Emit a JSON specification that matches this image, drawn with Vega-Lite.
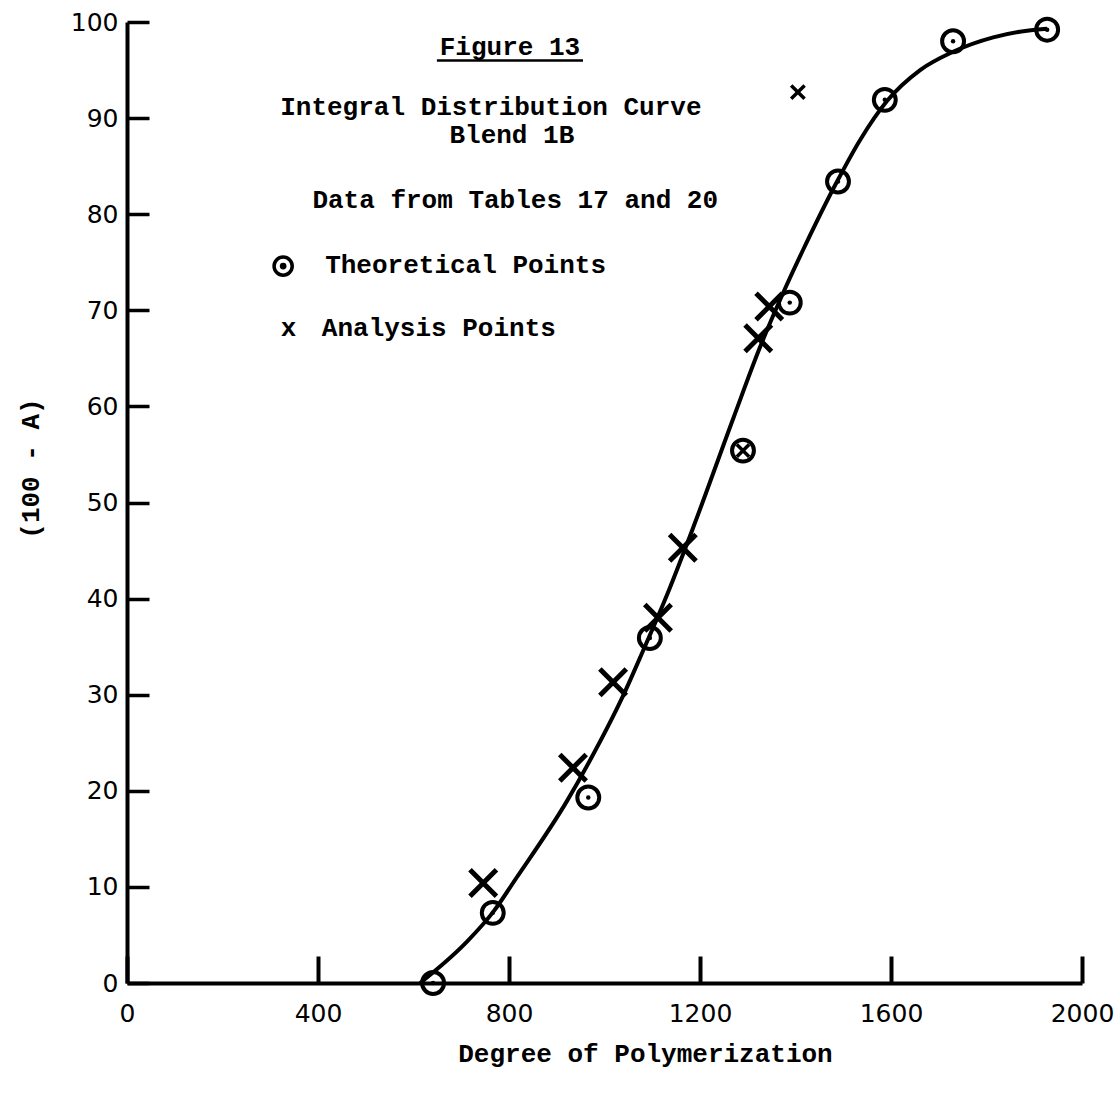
{
  "$schema": "https://vega.github.io/schema/vega-lite/v6.json",
  "width": 955,
  "height": 961,
  "autosize": {"type": "none"},
  "padding": {"left": 127, "top": 22, "right": 33, "bottom": 114},
  "background": "white",
  "config": {"view": {"stroke": null}},
  "datasets": {
    "curve": [
      {"dp": 614, "pct": 0}, {"dp": 712, "pct": 4.3}, {"dp": 767, "pct": 7.4}, {"dp": 815, "pct": 10.9},
      {"dp": 921, "pct": 18.9}, {"dp": 970, "pct": 23.2}, {"dp": 1039, "pct": 29.9}, {"dp": 1081, "pct": 34.6},
      {"dp": 1131, "pct": 40.4}, {"dp": 1185, "pct": 47.3}, {"dp": 1270, "pct": 58.8}, {"dp": 1326, "pct": 66.2},
      {"dp": 1374, "pct": 71.8}, {"dp": 1416, "pct": 76.3}, {"dp": 1487, "pct": 83.4}, {"dp": 1535, "pct": 87.7},
      {"dp": 1592, "pct": 91.8}, {"dp": 1661, "pct": 95}, {"dp": 1730, "pct": 96.9}, {"dp": 1814, "pct": 98.4},
      {"dp": 1885, "pct": 99.1}, {"dp": 1927, "pct": 99.3}
    ],
    "points": [
      {"dp": 641, "pct": 0, "series": "Theoretical"},
      {"dp": 766, "pct": 7.3, "series": "Theoretical"},
      {"dp": 966, "pct": 19.3, "series": "Theoretical"},
      {"dp": 1095, "pct": 35.9, "series": "Theoretical"},
      {"dp": 1290, "pct": 55.4, "series": "Both"},
      {"dp": 1388, "pct": 70.8, "series": "Theoretical"},
      {"dp": 1489, "pct": 83.4, "series": "Theoretical"},
      {"dp": 1587, "pct": 91.9, "series": "Theoretical"},
      {"dp": 1730, "pct": 98, "series": "Theoretical"},
      {"dp": 1927, "pct": 99.2, "series": "Theoretical"},
      {"dp": 746, "pct": 10.4, "series": "Analysis"},
      {"dp": 934, "pct": 22.4, "series": "Analysis"},
      {"dp": 1018, "pct": 31.3, "series": "Analysis"},
      {"dp": 1112, "pct": 38, "series": "Analysis"},
      {"dp": 1164, "pct": 45.3, "series": "Analysis"},
      {"dp": 1322, "pct": 67.1, "series": "Analysis"},
      {"dp": 1345, "pct": 70.4, "series": "Analysis"},
      {"dp": 1405, "pct": 92.7, "series": "Analysis"}
    ],
    "labels": [
      {"dp": 802, "pct": 97.4, "text": "Figure 13", "align": "center"},
      {"dp": 762, "pct": 91.2, "text": "Integral Distribution Curve", "align": "center"},
      {"dp": 806, "pct": 88.2, "text": "Blend 1B", "align": "center"},
      {"dp": 813, "pct": 81.5, "text": "Data from Tables 17 and 20", "align": "center"},
      {"dp": 415, "pct": 74.7, "text": "Theoretical Points", "align": "left"},
      {"dp": 322, "pct": 68.2, "text": "x", "align": "left"},
      {"dp": 408, "pct": 68.2, "text": "Analysis Points", "align": "left"}
    ],
    "underline": [{"dp": 649, "dp2": 955, "pct": 96.0}],
    "legendsym": [{"dp": 327, "pct": 74.6}]
  },
  "encoding": {
    "x": {
      "field": "dp", "type": "quantitative",
      "scale": {"domain": [0, 2000], "nice": false, "zero": false},
      "axis": {
        "title": "Degree of Polymerization",
        "titleFont": "Liberation Mono", "titleFontSize": 26, "titleFontWeight": "bold", "titleColor": "black",
        "titleX": 518, "titleY": 70, "titleBaseline": "middle",
        "values": [0, 400, 800, 1200, 1600, 2000],
        "format": "d",
        "grid": false,
        "domainColor": "black", "domainWidth": 4,
        "tickColor": "black", "tickWidth": 4, "tickSize": -27,
        "labelFont": "DejaVu Sans", "labelFontSize": 25, "labelColor": "black",
        "labelPadding": 45, "labelFlush": false, "labelOverlap": false
      }
    },
    "y": {
      "field": "pct", "type": "quantitative",
      "scale": {"domain": [0, 100], "nice": false},
      "axis": {
        "title": "(100 - A)",
        "titleFont": "Liberation Mono", "titleFontSize": 26, "titleFontWeight": "bold", "titleColor": "black",
        "titleX": -97, "titleY": 446, "titleAngle": -90, "titleBaseline": "middle", "titleAlign": "center",
        "values": [0, 10, 20, 30, 40, 50, 60, 70, 80, 90, 100],
        "grid": false,
        "domainColor": "black", "domainWidth": 4,
        "tickColor": "black", "tickWidth": 3.5, "tickSize": -22,
        "labelFont": "DejaVu Sans", "labelFontSize": 25, "labelColor": "black",
        "labelPadding": 31, "labelFlush": false, "labelOverlap": false
      }
    }
  },
  "layer": [
    {
      "data": {"name": "curve"},
      "mark": {"type": "line", "color": "black", "strokeWidth": 4, "interpolate": "monotone"}
    },
    {
      "data": {"name": "points"},
      "transform": [{"filter": "datum.series !== 'Analysis'"}],
      "mark": {"type": "point", "shape": "circle", "filled": false, "stroke": "black", "strokeWidth": 4, "size": 480, "opacity": 1}
    },
    {
      "data": {"name": "points"},
      "transform": [{"filter": "datum.series === 'Theoretical'"}],
      "mark": {"type": "point", "shape": "circle", "filled": true, "color": "black", "size": 20, "opacity": 1}
    },
    {
      "data": {"name": "points"},
      "transform": [{"filter": "datum.series === 'Both'"}],
      "mark": {"type": "point", "shape": "M-1,-1L1,1M1,-1L-1,1", "filled": false, "stroke": "black", "strokeWidth": 3.5, "size": 150, "opacity": 1}
    },
    {
      "data": {"name": "points"},
      "transform": [{"filter": "datum.series === 'Analysis' && datum.pct < 90"}],
      "mark": {"type": "point", "shape": "M-1,-1L1,1M1,-1L-1,1", "filled": false, "stroke": "black", "strokeWidth": 5, "size": 700, "opacity": 1}
    },
    {
      "data": {"name": "points"},
      "transform": [{"filter": "datum.series === 'Analysis' && datum.pct >= 90"}],
      "mark": {"type": "point", "shape": "M-1,-1L1,1M1,-1L-1,1", "filled": false, "stroke": "black", "strokeWidth": 3.5, "size": 180, "opacity": 1}
    },
    {
      "data": {"name": "legendsym"},
      "mark": {"type": "point", "shape": "circle", "filled": false, "stroke": "black", "strokeWidth": 3.5, "size": 330, "opacity": 1}
    },
    {
      "data": {"name": "legendsym"},
      "mark": {"type": "point", "shape": "circle", "filled": true, "color": "black", "size": 45, "opacity": 1}
    },
    {
      "data": {"name": "labels"},
      "transform": [{"filter": "datum.align === 'center'"}],
      "mark": {"type": "text", "font": "Liberation Mono", "fontSize": 26, "fontWeight": "bold", "color": "black", "align": "center", "baseline": "middle"},
      "encoding": {"text": {"field": "text"}}
    },
    {
      "data": {"name": "labels"},
      "transform": [{"filter": "datum.align === 'left'"}],
      "mark": {"type": "text", "font": "Liberation Mono", "fontSize": 26, "fontWeight": "bold", "color": "black", "align": "left", "baseline": "middle"},
      "encoding": {"text": {"field": "text"}}
    },
    {
      "data": {"name": "underline"},
      "mark": {"type": "rule", "color": "black", "strokeWidth": 2.5},
      "encoding": {"x2": {"field": "dp2"}}
    }
  ]
}
